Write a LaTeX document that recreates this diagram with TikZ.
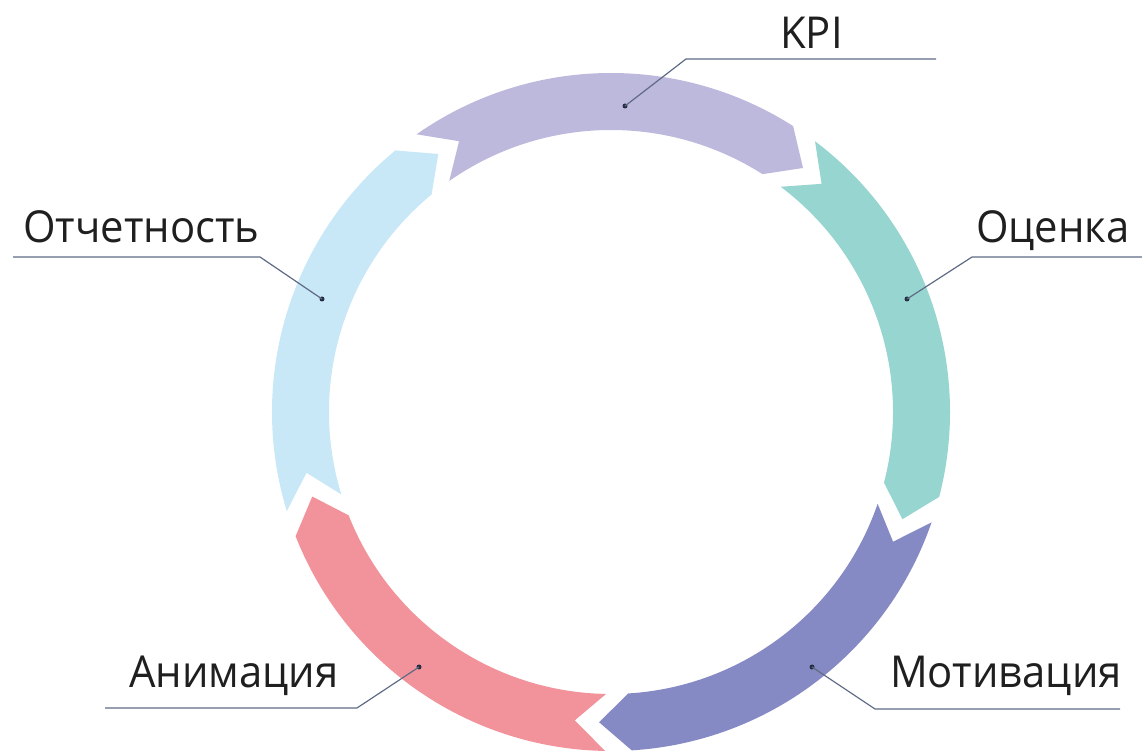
\documentclass[tikz,border=0pt]{standalone}
\usepackage{fontspec}
\setmainfont{Open Sans}[FakeStretch=0.95]
\usepackage{tikz}
\usetikzlibrary{calc}
\definecolor{kpipurple}{RGB}{189,185,221}
\definecolor{evalteal}{RGB}{151,213,208}
\definecolor{motivnavy}{RGB}{134,138,196}
\definecolor{animpink}{RGB}{242,147,155}
\definecolor{reportblue}{RGB}{200,232,248}
\definecolor{leadergray}{RGB}{95,106,132}
\definecolor{dotnavy}{RGB}{38,46,70}

\begin{document}
\begin{tikzpicture}[x=1pt, y=1pt,
    cycletext/.style={font=\fontsize{44}{44}\selectfont, text=black!88, inner sep=0pt, anchor=base west},
    leader/.style={draw=leadergray, line width=1.2pt},
    dotmark/.style={circle, fill=dotnavy, inner sep=0pt, minimum size=5pt},
]
    \useasboundingbox (0,0) rectangle (1142,754);
    % ring: tail angle / colour, each arc 67.5 deg
    \begin{scope}[shift={(611,342)}]
        \foreach \tn/\col in {125/kpipurple, 53/evalteal, -19/motivnavy, -91/animpink, -163/reportblue} {
            \pgfmathsetmacro{\hd}{\tn - 67.5}
            \pgfmathsetmacro{\hp}{\hd - 5.7}
            \pgfmathsetmacro{\tp}{\tn - 5.7}
            \fill[\col] (\tn:339) arc[start angle=\tn, end angle=\hd, radius=339]
                -- (\hp:310.5) -- (\hd:282) arc[start angle=\hd, end angle=\tn, radius=282]
                -- (\tp:310.5) -- cycle;
        }
    \end{scope}
    % labels
    \node[cycletext] (kpi) at (780,705) {KPI};
    \node[cycletext] (eval) at (976,511) {Оценка};
    \node[cycletext] (motiv) at (890,66) {Мотивация};
    \node[cycletext] (anim) at (129,66) {Анимация};
    \node[cycletext] (report) at (23,511) {Отчетность};
    % leaders: dot / bend / end
    \foreach \nm/\dx/\dy/\bx/\by/\ex in {kpi/625/648/686/695/936, eval/907/455/972/497/1142,
        motiv/812/87/875/45/1120, anim/419/87/357/46/105, report/322/455/260/497/13} {
        \node[dotmark] (\nm dot) at (\dx,\dy) {};
        \coordinate (\nm bend) at (\bx,\by);
        \coordinate (\nm end) at (\ex,\by);
        \draw[leader] (\nm dot.center) -- (\nm bend) -- (\nm end);
    }
\end{tikzpicture}
\end{document}
